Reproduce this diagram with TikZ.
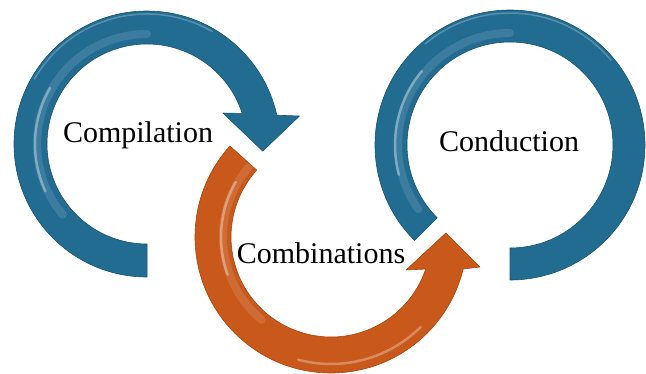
\documentclass[tikz,border=0pt]{standalone}
\usepackage{fontspec}
\setmainfont{Liberation Serif}
\usetikzlibrary{calc}
\definecolor{ringblue}{HTML}{226C92}
\definecolor{ringbluedark}{HTML}{185473}
\definecolor{ringorange}{HTML}{C9581B}
\definecolor{ringorangedark}{HTML}{A8450F}

\begin{document}
\begin{tikzpicture}[x=1pt,y=1pt,
    blueband/.style={fill=ringblue, draw=ringbluedark, line width=0.6pt, line join=round},
    orangeband/.style={fill=ringorange, draw=ringorangedark, line width=0.6pt, line join=round},
    shine/.style={white, opacity=0.35, line width=2.5pt, line cap=round},
    glow/.style={white, opacity=0.12, line width=8pt, line cap=round},
    word/.style={font=\fontsize{30}{36}\selectfont, anchor=base, inner sep=0pt}]
    \useasboundingbox (0,0) rectangle (646,373);
    % left ring
    \begin{scope}[shift={(147,229)}]
        \draw[blueband] (270:133) arc (270:12.5:133) -- (10.4:155) -- (-3.5:116) -- (22.2:82) -- (17.8:100) arc (17.8:270:100) -- cycle;
        \draw[glow] (220:110) arc (220:90:110);
        \draw[shine] (205:112) arc (205:150:112);
        \draw[shine, opacity=0.25, line width=1.5pt] (150:130) arc (150:60:130);
    \end{scope}
    % right ring
    \begin{scope}[shift={(510,228)}]
        \draw[blueband] (225:135) arc (225:-90:135) -- (-90:103) arc (-90:225:103) -- cycle;
        \draw[glow] (215:112) arc (215:90:112);
        \draw[shine] (195:115) arc (195:140:115);
        \draw[shine, opacity=0.25, line width=1.5pt] (130:132) arc (130:40:132);
    \end{scope}
    % lower ring
    \begin{scope}[shift={(331,136)}]
        \draw[orangeband] (138:136) arc (138:346.4:136) -- (-11.4:152) -- (2:115) -- (-23.7:82) -- (-18.7:100) arc (341.3:138:100) -- cycle;
        \draw[glow] (140:108) arc (140:230:108);
        \draw[shine] (150:110) arc (150:200:110);
        \draw[shine, opacity=0.3] (255:127) arc (255:315:127);
    \end{scope}
    % texts
    \node[word] (compilation) at (138,230) {Compilation};
    \node[word] (conduction) at (509,222) {Conduction};
    \node[word] (combinations) at (321,110) {Combinations};
\end{tikzpicture}
\end{document}
